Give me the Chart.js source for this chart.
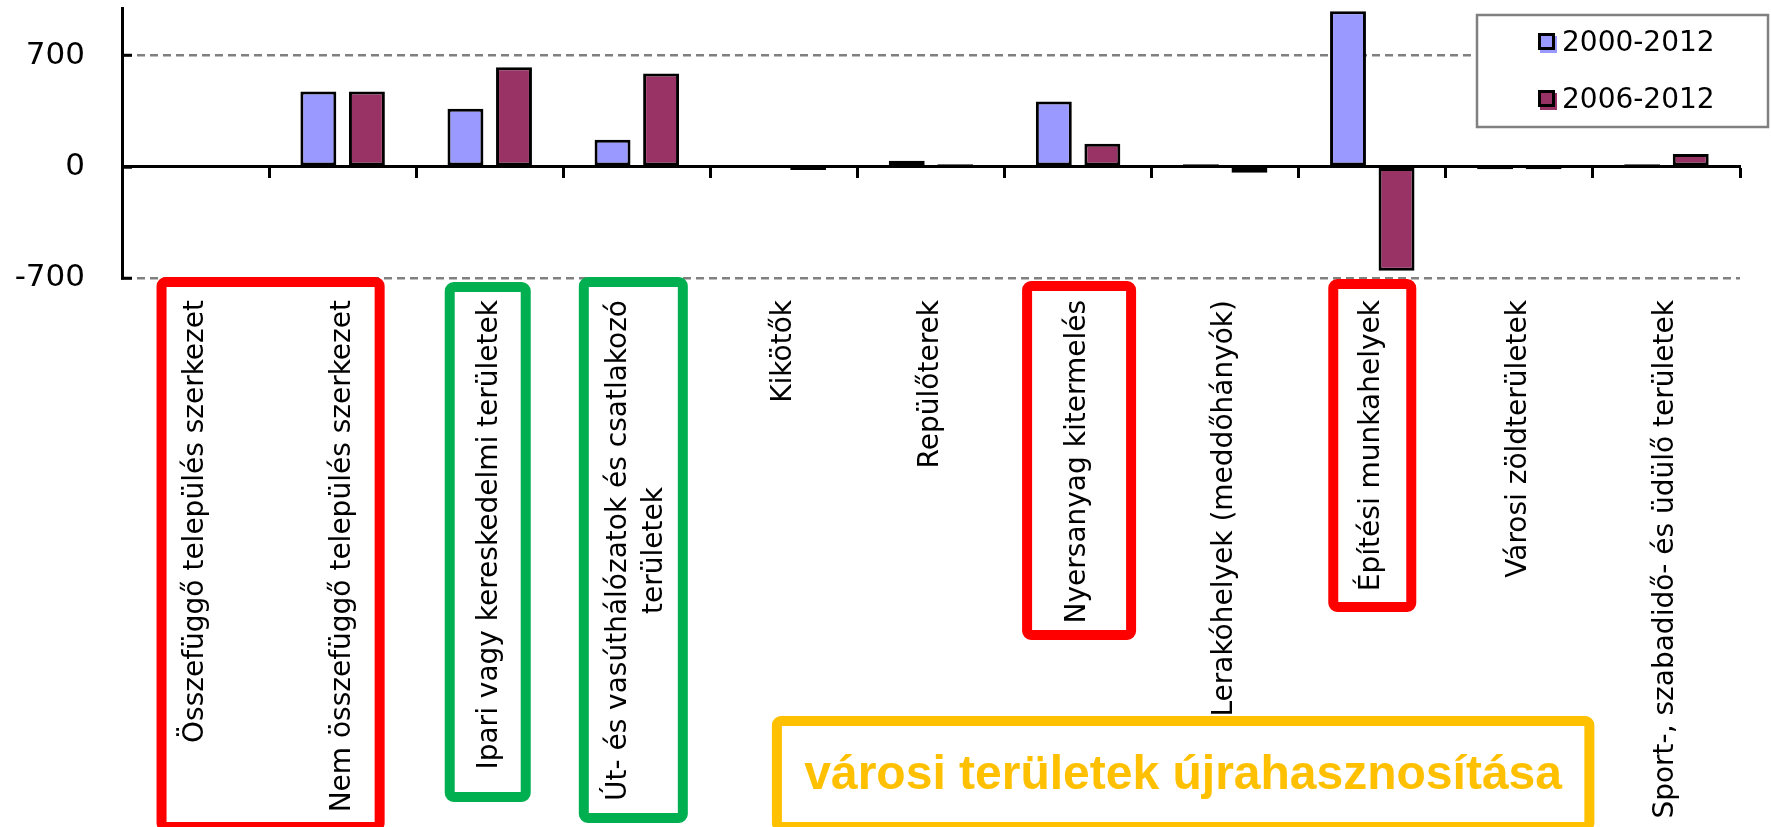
<!DOCTYPE html>
<html>
<head>
<meta charset="utf-8">
<title>Területhasználat változása</title>
<script src="https://cdn.jsdelivr.net/npm/chart.js@4.4.1/dist/chart.umd.min.js"></script>
<style>
    html, body { margin: 0; padding: 0; background: #ffffff; }
    #wrap { width: 1771px; height: 827px; position: relative; }
</style>
</head>
<body>
<div id="wrap"><canvas id="landChart" width="1771" height="827"></canvas></div>
<script>
;(function (document, window) {
    'use strict';

    // land cover classes, x axis
    var categories = [
        'Összefüggő település szerkezet',
        'Nem összefüggő település szerkezet',
        'Ipari vagy kereskedelmi területek',
        ['Út- és vasúthálózatok és csatlakozó', 'területek'],
        'Kikötők',
        'Repülőterek',
        'Nyersanyag kitermelés',
        'Lerakóhelyek (meddőhányók)',
        'Építési munkahelyek',
        'Városi zöldterületek',
        'Sport-, szabadidő- és üdülő területek'
    ];

    var seriesNames = ['2000-2012', '2006-2012'];
    var values2000 = [0, 475, 366, 170, 0, 39, 412, 16, 980, -15, 16];
    var values2006 = [0, 475, 627, 587, -20, 16, 145, -38, -654, -15, 81];

    var yTicks = [-700, 0, 700];
    var yMin = -700;
    var yMax = 1000;

    var note = 'városi területek újrahasznosítása';

    var FONT = '"DejaVu Sans", Verdana, sans-serif';

    // frames around the axis labels: category span + pixel padding,
    // top/bottom measured from the bottom of the plot area
    var frames = [
        {color: '#ff0000', first: 0, last: 1, padLeft: 39, padRight: 42, top: -1, bottom: 554},
        {color: '#00b050', first: 2, last: 2, padLeft: 45, padRight: 41, top: 4, bottom: 524},
        {color: '#00b050', first: 3, last: 3, padLeft: 58, padRight: 51, top: -1, bottom: 545},
        {color: '#ff0000', first: 6, last: 6, padLeft: 56, padRight: 58, top: 3, bottom: 362},
        {color: '#ff0000', first: 8, last: 8, padLeft: 44, padRight: 44, top: 1, bottom: 334},
        {color: '#ffc000', first: 4, last: 9, padLeft: 12, padRight: 75, top: 438, bottom: 554, fill: '#ffffff', text: note}
    ];

    /**
     * Rounded rectangle path (stroke centered on it).
     */
    function framePath(ctx, x, y, w, h, r) {
        ctx.beginPath();
        ctx.moveTo(x + r, y);
        ctx.arcTo(x + w, y, x + w, y + h, r);
        ctx.arcTo(x + w, y + h, x, y + h, r);
        ctx.arcTo(x, y + h, x, y, r);
        ctx.arcTo(x, y, x + w, y, r);
        ctx.closePath();
    }

    var labelPlugin = {
        id: 'rotatedLabels',
        afterDatasetsDraw: function (chart) {
            var ctx = chart.ctx;
            var xs = chart.scales.x;
            var top = chart.chartArea.bottom + 22;
            var lineHeight = 36;

            ctx.save();
            ctx.font = '28px ' + FONT;
            ctx.fillStyle = '#000000';
            ctx.textAlign = 'right';
            ctx.textBaseline = 'alphabetic';

            categories.forEach(function (label, i) {
                var lines = Array.isArray(label) ? label : [label];
                var cx = xs.getPixelForValue(i);

                lines.forEach(function (line, j) {
                    var off = (j - (lines.length - 1) / 2) * lineHeight;
                    ctx.save();
                    ctx.translate(cx + off + 7, top);
                    ctx.rotate(-Math.PI / 2);
                    if (lines.length > 1) {
                        // second line is centred under the first one
                        var w0 = ctx.measureText(lines[0]).width;
                        var wj = ctx.measureText(line).width;
                        ctx.translate(-(w0 - wj) / 2, 0);
                    }
                    ctx.fillText(line, 0, 0);
                    ctx.restore();
                });
            });
            ctx.restore();
        }
    };

    var framePlugin = {
        id: 'labelFrames',
        afterDraw: function (chart) {
            var ctx = chart.ctx;
            var xs = chart.scales.x;
            var base = chart.chartArea.bottom;
            var bw = 10;

            ctx.save();
            frames.forEach(function (f) {
                var x0 = xs.getPixelForValue(f.first) - f.padLeft;
                var x1 = xs.getPixelForValue(f.last) + f.padRight;
                var y0 = base + f.top;
                var y1 = base + f.bottom;

                framePath(ctx, x0 + bw / 2, y0 + bw / 2, x1 - x0 - bw, y1 - y0 - bw, 4);
                if (f.fill) {
                    ctx.fillStyle = f.fill;
                    ctx.fill();
                }
                ctx.lineWidth = bw;
                ctx.lineJoin = 'round';
                ctx.strokeStyle = f.color;
                ctx.stroke();

                if (f.text) {
                    ctx.fillStyle = f.color;
                    ctx.font = 'bold 48px "Liberation Sans", Arial, sans-serif';
                    ctx.textAlign = 'center';
                    ctx.textBaseline = 'alphabetic';
                    ctx.fillText(f.text, (x0 + x1) / 2, y0 + 73);
                }
            });
            ctx.restore();
        }
    };

    var legendPlugin = {
        id: 'boxLegend',
        afterDraw: function (chart) {
            var ctx = chart.ctx;
            var box = {x: 1477, y: 15, w: 291, h: 112};
            var rows = [43, 100];

            ctx.save();
            ctx.fillStyle = '#ffffff';
            ctx.fillRect(box.x, box.y, box.w, box.h);
            ctx.lineWidth = 2.5;
            ctx.strokeStyle = '#808080';
            ctx.strokeRect(box.x, box.y, box.w, box.h);

            ctx.font = '28px ' + FONT;
            ctx.textAlign = 'left';
            ctx.textBaseline = 'middle';

            chart.data.datasets.forEach(function (ds, i) {
                var cy = rows[i];
                // coloured shadow, then bordered swatch
                ctx.fillStyle = ds.backgroundColor;
                ctx.fillRect(1540, cy - 7, 17, 17);
                ctx.fillRect(1539.5, cy - 8.5, 14, 14);
                ctx.lineWidth = 3;
                ctx.strokeStyle = '#000000';
                ctx.strokeRect(1539.5, cy - 8.5, 14, 14);

                ctx.fillStyle = '#000000';
                ctx.fillText(ds.label, 1562, cy + 1);
            });
            ctx.restore();
        }
    };

    var ctx = document.getElementById('landChart').getContext('2d');

    new Chart(ctx, {
        type: 'bar',
        data: {
            labels: categories,
            datasets: [
                {
                    label: seriesNames[0],
                    data: values2000,
                    backgroundColor: '#9999ff',
                    borderColor: '#000000',
                    borderWidth: 3,
                    borderSkipped: false
                },
                {
                    label: seriesNames[1],
                    data: values2006,
                    backgroundColor: '#993366',
                    borderColor: '#000000',
                    borderWidth: 3,
                    borderSkipped: false
                }
            ]
        },
        options: {
            responsive: false,
            animation: false,
            devicePixelRatio: 1,
            categoryPercentage: 0.66,
            barPercentage: 0.74,
            layout: {
                padding: {left: 0, top: 8, right: 31, bottom: 549}
            },
            plugins: {
                legend: {display: false},
                tooltip: {enabled: false}
            },
            scales: {
                x: {
                    position: {y: 0},
                    offset: true,
                    grid: {
                        display: true,
                        offset: true,
                        drawOnChartArea: false,
                        drawTicks: true,
                        tickLength: 10,
                        tickWidth: 3,
                        tickColor: '#000000'
                    },
                    border: {display: true, color: '#000000', width: 3},
                    ticks: {display: false}
                },
                y: {
                    min: yMin,
                    max: yMax,
                    afterBuildTicks: function (scale) {
                        scale.ticks = yTicks.map(function (v) { return {value: v}; });
                    },
                    afterFit: function (scale) {
                        scale.width = 122;
                        scale.paddingTop = 0;
                        scale.paddingBottom = 0;
                    },
                    grid: {
                        color: function (c) {
                            return c.tick && c.tick.value === 0 ? 'rgba(0,0,0,0)' : '#808080';
                        },
                        lineWidth: 2.5,
                        drawTicks: true,
                        tickLength: -10,
                        tickWidth: 3,
                        tickColor: '#000000'
                    },
                    border: {display: true, color: '#000000', width: 3, dash: [8, 5]},
                    ticks: {
                        color: '#000000',
                        padding: 47,
                        font: {family: FONT, size: 31}
                    }
                }
            }
        },
        plugins: [labelPlugin, framePlugin, legendPlugin]
    });

})(document, window);
</script>
</body>
</html>
